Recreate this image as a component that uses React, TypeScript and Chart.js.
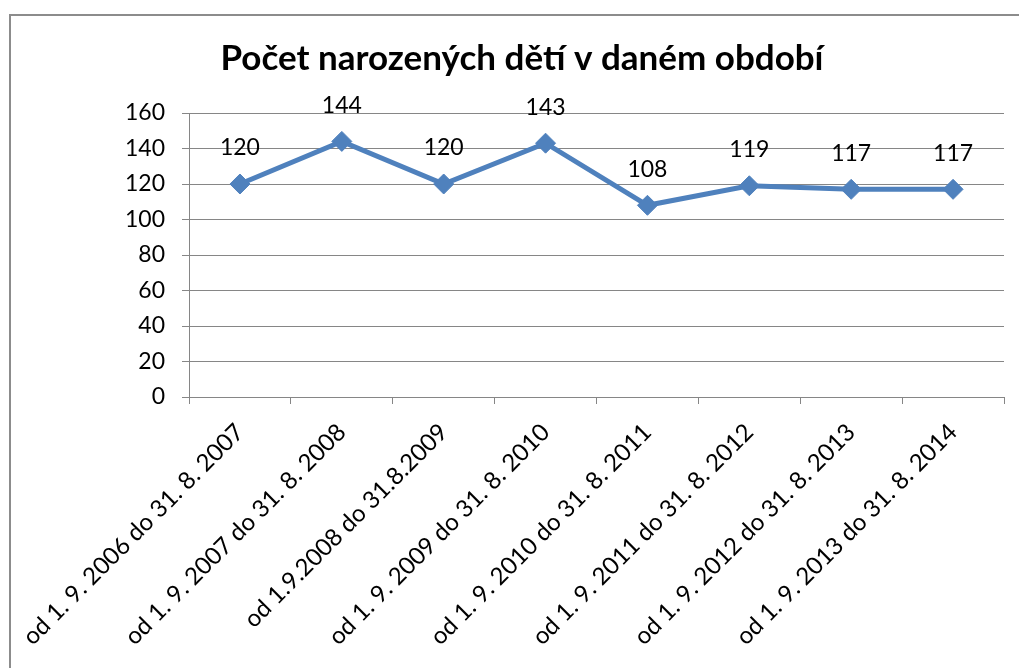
import React, { useEffect, useRef } from "react";
import { Chart, registerables } from "chart.js";

Chart.register(...registerables);

const TITLE = "Počet narozených dětí v daném období";
const categories = [
  "od 1. 9. 2006 do 31. 8. 2007",
  "od 1. 9. 2007 do 31. 8. 2008",
  "od 1.9.2008 do 31.8.2009",
  "od 1. 9. 2009 do 31. 8. 2010",
  "od 1. 9. 2010 do 31. 8. 2011",
  "od 1. 9. 2011 do 31. 8. 2012",
  "od 1. 9. 2012 do 31. 8. 2013",
  "od 1. 9. 2013 do 31. 8. 2014",
];
const births = [120, 144, 120, 143, 108, 119, 117, 117];
const yMin = 0;
const yMax = 160;
const yStep = 20;

const FONT = "Lato, 'Open Sans', sans-serif";
const GRID = "#868686";
const LINE = "#4F81BD";

const dataLabels = {
  id: "dataLabels",
  afterDatasetsDraw(chart: any) {
    const ctx = chart.ctx;
    const meta = chart.getDatasetMeta(0);
    ctx.save();
    ctx.font = `23px ${FONT}`;
    ctx.fillStyle = "#000";
    ctx.textAlign = "center";
    ctx.textBaseline = "middle";
    meta.data.forEach((pt: any, i: number) => {
      ctx.fillText(String(chart.data.datasets[0].data[i]), pt.x, pt.y - 36);
    });
    ctx.restore();
  },
};

const titlePlugin = {
  id: "customTitle",
  afterDraw(chart: any) {
    const ctx = chart.ctx;
    ctx.save();
    ctx.font = `bold 35px ${FONT}`;
    ctx.fillStyle = "#000";
    ctx.textAlign = "center";
    ctx.textBaseline = "alphabetic";
    ctx.fillText(TITLE, 522, 70);
    ctx.restore();
  },
};

export default function App() {
  const ref = useRef<HTMLCanvasElement>(null);
  useEffect(() => {
    if (!ref.current) return;
    const chart = new Chart(ref.current, {
      type: "line",
      data: {
        labels: categories,
        datasets: [
          {
            data: births,
            borderColor: LINE,
            backgroundColor: LINE,
            borderWidth: 5,
            pointStyle: "rectRot",
            pointRadius: 10,
            pointBackgroundColor: LINE,
            pointBorderColor: LINE,
            pointBorderWidth: 1,
            tension: 0,
          },
        ],
      },
      options: {
        animation: false,
        responsive: false,
        maintainAspectRatio: false,
        layout: { padding: { left: 0, right: 15, top: 113, bottom: 0 } },
        plugins: {
          legend: { display: false },
          tooltip: { enabled: false },
          title: { display: false },
        },
        scales: {
          x: {
            offset: true,
            grid: {
              offset: true,
              drawOnChartArea: false,
              drawTicks: true,
              tickLength: 7,
              color: GRID,
            },
            border: { color: GRID, width: 1 },
            ticks: {
              color: "#000",
              font: { family: FONT, size: 24 },
              minRotation: 45,
              maxRotation: 45,
              autoSkip: false,
              padding: 14,
            },
            afterFit(scale: any) {
              scale.height = 271;
            },
          },
          y: {
            min: yMin,
            max: yMax,
            ticks: {
              stepSize: yStep,
              color: "#000",
              font: { family: FONT, size: 23 },
              padding: 17,
            },
            grid: { color: GRID, tickLength: 7, drawTicks: true },
            border: { color: GRID, width: 1 },
            afterFit(scale: any) {
              scale.width = 189;
            },
          },
        },
      },
      plugins: [dataLabels, titlePlugin],
    });
    return () => chart.destroy();
  }, []);

  return (
    <div
      style={{
        position: "fixed",
        left: 0,
        top: 0,
        width: 1019,
        height: 668,
        overflow: "hidden",
        background: "#fff",
      }}
    >
      <div
        style={{
          position: "absolute",
          left: 9,
          top: 14,
          width: 1100,
          height: 800,
          border: "2px solid #8c8c8c",
          boxSizing: "border-box",
        }}
      />
      <canvas
        ref={ref}
        width={1019}
        height={668}
        style={{ position: "absolute", left: 0, top: 0, width: 1019, height: 668 }}
      />
    </div>
  );
}
